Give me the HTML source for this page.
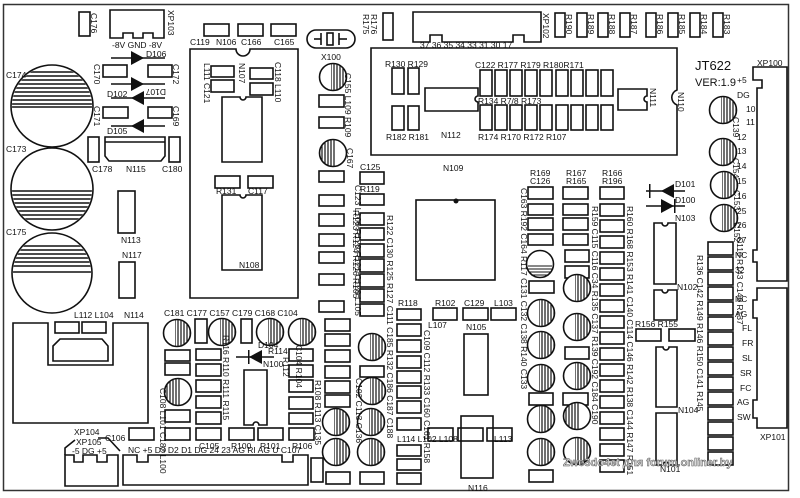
<!DOCTYPE html>
<html><head><meta charset="utf-8"><style>
html,body{margin:0;padding:0;background:#fff;width:800px;height:498px;overflow:hidden}
svg{display:block}
text{font-family:"Liberation Sans",sans-serif;font-size:8.5px;fill:#111}
</style></head><body>
<svg width="800" height="498" viewBox="0 0 800 498" xmlns="http://www.w3.org/2000/svg">
<defs>
<pattern id="vl" width="3" height="4" patternUnits="userSpaceOnUse"><rect width="3" height="4" fill="#fff"/><line x1="1" y1="0" x2="1" y2="4" stroke="#111" stroke-width="1.2"/></pattern>
<clipPath id="cc"><circle cx="0" cy="0" r="13"/></clipPath>
<clipPath id="b1"><circle cx="52" cy="106" r="40"/></clipPath>
<clipPath id="b2"><circle cx="52" cy="189" r="40"/></clipPath>
<clipPath id="b3"><circle cx="52" cy="273" r="39"/></clipPath>
<g id="hc"><circle r="13.5" fill="#fff"/><rect x="-2" y="-14" width="16" height="28" fill="url(#vl)" clip-path="url(#cc)"/><circle r="13.5" fill="none" stroke="#111" stroke-width="1.6"/></g>
<g id="hcl"><circle r="13.5" fill="#fff"/><rect x="-14" y="-14" width="16" height="28" fill="url(#vl)" clip-path="url(#cc)"/><circle r="13.5" fill="none" stroke="#111" stroke-width="1.6"/></g>
</defs>
<rect x="0" y="0" width="800" height="498" fill="#fff"/>
<rect x="3.5" y="4.5" width="785" height="486" fill="none" stroke="#333" stroke-width="1.5"/>

<g fill="none" stroke="#111" stroke-width="1.6">
<circle cx="52" cy="106" r="41"/>
<circle cx="52" cy="189" r="41"/>
<circle cx="52" cy="273" r="40"/>
</g>
<g stroke="#111" stroke-width="1.4">
<g clip-path="url(#b1)">
<line x1="0" y1="72" x2="100" y2="72"/><line x1="0" y1="76" x2="100" y2="76"/><line x1="0" y1="80" x2="100" y2="80"/><line x1="0" y1="84" x2="100" y2="84"/><line x1="0" y1="88" x2="100" y2="88"/><line x1="0" y1="92" x2="100" y2="92"/><line x1="0" y1="96" x2="100" y2="96"/><line x1="0" y1="100" x2="100" y2="100"/><line x1="0" y1="104" x2="100" y2="104"/><line x1="0" y1="107" x2="100" y2="107"/>
</g>
<g clip-path="url(#b2)">
<line x1="0" y1="191" x2="100" y2="191"/><line x1="0" y1="195" x2="100" y2="195"/><line x1="0" y1="199" x2="100" y2="199"/><line x1="0" y1="203" x2="100" y2="203"/><line x1="0" y1="207" x2="100" y2="207"/><line x1="0" y1="211" x2="100" y2="211"/><line x1="0" y1="215" x2="100" y2="215"/><line x1="0" y1="219" x2="100" y2="219"/>
</g>
<g clip-path="url(#b3)">
<line x1="0" y1="246" x2="100" y2="246"/><line x1="0" y1="250" x2="100" y2="250"/><line x1="0" y1="254" x2="100" y2="254"/><line x1="0" y1="258" x2="100" y2="258"/><line x1="0" y1="262" x2="100" y2="262"/><line x1="0" y1="266" x2="100" y2="266"/><line x1="0" y1="272" x2="100" y2="272"/>
</g>
</g>

<g fill="none" stroke="#111" stroke-width="1.6">
<rect x="79" y="12" width="11" height="24"/>
<path d="M110 10 H164 V38 H153 V33 H143 V38 H133 V33 H123 V38 H110 Z"/>
<rect x="103" y="65" width="24" height="12"/><rect x="148" y="65" width="24" height="12"/>
<rect x="103" y="107" width="25" height="11"/><rect x="148" y="107" width="24" height="11"/>
<rect x="88" y="137" width="11" height="25"/><path d="M105 137 H165 V156 L161 161 H109 L105 156 Z"/><line x1="105" y1="142" x2="165" y2="142"/>
<rect x="169" y="137" width="11" height="25"/>
<rect x="118" y="191" width="17" height="42"/>
<rect x="119" y="262" width="16" height="36"/>
<rect x="55" y="322" width="24" height="11"/><rect x="82" y="322" width="24" height="11"/>
<path d="M13 323 H48 V365 H113 V323 H148 V423 H13 Z"/>
<path d="M60 339 H102 L108 346 V361 H53 V346 Z"/>
<line x1="111" y1="58" x2="165" y2="58"/><line x1="111" y1="84" x2="165" y2="84"/><line x1="111" y1="98" x2="165" y2="98"/><line x1="111" y1="126" x2="165" y2="126"/>
<path d="M190 49 H236 A7 7 0 0 0 250 49 H298 V298 H190 Z"/>
<rect x="204" y="24" width="25" height="12"/><rect x="238" y="24" width="25" height="12"/><rect x="271" y="24" width="25" height="12"/>
<rect x="211" y="66" width="23" height="11"/><rect x="211" y="80" width="23" height="12"/>
<rect x="250" y="68" width="23" height="11"/><rect x="250" y="83" width="23" height="12"/>
<path d="M222 97 H240 A3 3 0 0 0 246 97 H262 V162 H222 Z"/>
<rect x="215" y="176" width="25" height="12"/><rect x="248" y="176" width="25" height="12"/>
<path d="M222 195 H240 A3 3 0 0 0 246 195 H262 V270 H222 Z"/>
<rect x="307" y="30" width="48" height="18" rx="9"/><rect x="327" y="33" width="6" height="12"/><line x1="321" y1="33" x2="321" y2="45"/><line x1="339" y1="33" x2="339" y2="45"/><line x1="314" y1="39" x2="321" y2="39"/><line x1="339" y1="39" x2="347" y2="39"/>
<rect x="383" y="13" width="10" height="27"/>
<path d="M413 12 H541 V42 H524 V35 H513 V42 H442 V35 H430 V42 H413 Z"/>
<rect x="555" y="13" width="10" height="24"/><rect x="577" y="13" width="10" height="24"/><rect x="598" y="13" width="10" height="24"/><rect x="620" y="13" width="10" height="24"/><rect x="646" y="13" width="10" height="24"/><rect x="668" y="13" width="10" height="24"/><rect x="690" y="13" width="10" height="24"/><rect x="713" y="13" width="10" height="24"/>
<path d="M371 48 H677 V90 A8 8 0 0 0 677 105 V155 H371 Z"/>
<rect x="392" y="68" width="12" height="26"/><rect x="408" y="68" width="11" height="26"/>
<rect x="392" y="106" width="12" height="24"/><rect x="408" y="106" width="11" height="24"/>
<path d="M425 88 H478 V96 A3 3 0 0 0 478 102 V111 H425 Z"/>
<rect x="480" y="70" width="12" height="26"/><rect x="495" y="70" width="12" height="26"/><rect x="510" y="70" width="12" height="26"/><rect x="525" y="70" width="12" height="26"/><rect x="540" y="70" width="12" height="26"/><rect x="556" y="70" width="12" height="26"/><rect x="571" y="70" width="12" height="26"/><rect x="586" y="70" width="12" height="26"/><rect x="601" y="70" width="12" height="26"/>
<rect x="480" y="105" width="12" height="25"/><rect x="495" y="105" width="12" height="25"/><rect x="510" y="105" width="12" height="25"/><rect x="525" y="105" width="12" height="25"/><rect x="540" y="105" width="12" height="25"/><rect x="556" y="105" width="12" height="25"/><rect x="571" y="105" width="12" height="25"/><rect x="586" y="105" width="12" height="25"/><rect x="601" y="105" width="12" height="25"/>
<path d="M618 89 H647 V96 A3 3 0 0 0 647 102 V110 H618 Z"/>
<rect x="416" y="200" width="79" height="80"/>
<rect x="319" y="95" width="25" height="12"/><rect x="319" y="117" width="25" height="11"/><rect x="319" y="171" width="25" height="11"/><rect x="319" y="195" width="25" height="11"/><rect x="319" y="214" width="25" height="12"/><rect x="319" y="234" width="25" height="12"/><rect x="319" y="252" width="25" height="11"/><rect x="319" y="274" width="25" height="11"/><rect x="319" y="301" width="25" height="11"/>
<rect x="360" y="172" width="24" height="12"/><rect x="360" y="194" width="24" height="11"/><rect x="360" y="213" width="24" height="12"/><rect x="360" y="228" width="24" height="12"/><rect x="360" y="244" width="24" height="13"/><rect x="360" y="259" width="24" height="13"/><rect x="360" y="274" width="24" height="13"/><rect x="360" y="289" width="24" height="13"/><rect x="360" y="304" width="24" height="12"/><rect x="360" y="366" width="24" height="11"/>
<rect x="325" y="319" width="25" height="12"/><rect x="325" y="334" width="25" height="12"/><rect x="325" y="350" width="25" height="12"/><rect x="325" y="366" width="25" height="12"/><rect x="325" y="381" width="25" height="12"/><rect x="325" y="395" width="25" height="12"/>
<rect x="397" y="309" width="24" height="11"/><rect x="397" y="324" width="24" height="12"/><rect x="397" y="340" width="24" height="12"/><rect x="397" y="356" width="24" height="12"/><rect x="397" y="371" width="24" height="12"/><rect x="397" y="386" width="24" height="12"/><rect x="397" y="401" width="24" height="12"/><rect x="397" y="418" width="24" height="12"/><rect x="397" y="445" width="24" height="11"/><rect x="397" y="459" width="24" height="11"/><rect x="397" y="473" width="24" height="11"/>
<rect x="428" y="428" width="25" height="13"/><rect x="458" y="428" width="25" height="13"/><rect x="487" y="428" width="25" height="13"/>
<rect x="433" y="308" width="24" height="12"/><rect x="463" y="308" width="25" height="12"/><rect x="491" y="308" width="25" height="12"/>
<rect x="464" y="334" width="24" height="61"/><rect x="461" y="416" width="32" height="62"/>
<rect x="529" y="281" width="25" height="12"/><rect x="565" y="347" width="24" height="12"/><rect x="529" y="393" width="24" height="12"/><rect x="563" y="393" width="25" height="12"/><rect x="529" y="470" width="24" height="12"/>
<rect x="528" y="187" width="25" height="12"/><rect x="528" y="204" width="25" height="11"/><rect x="528" y="218" width="25" height="12"/><rect x="528" y="234" width="25" height="11"/>
<rect x="563" y="187" width="25" height="12"/><rect x="563" y="204" width="25" height="11"/><rect x="563" y="218" width="25" height="12"/><rect x="563" y="234" width="25" height="11"/><rect x="565" y="250" width="24" height="12"/><rect x="565" y="266" width="24" height="12"/>
<rect x="600" y="187" width="24" height="12"/><rect x="600" y="204" width="24" height="12"/><rect x="600" y="220" width="24" height="12"/><rect x="600" y="236" width="24" height="12"/><rect x="600" y="252" width="24" height="12"/><rect x="600" y="268" width="24" height="12"/><rect x="600" y="284" width="24" height="12"/><rect x="600" y="300" width="24" height="12"/><rect x="600" y="316" width="24" height="12"/><rect x="600" y="332" width="24" height="12"/><rect x="600" y="348" width="24" height="12"/><rect x="600" y="364" width="24" height="12"/><rect x="600" y="380" width="24" height="12"/><rect x="600" y="396" width="24" height="12"/><rect x="600" y="412" width="24" height="12"/><rect x="600" y="428" width="24" height="12"/><rect x="600" y="444" width="24" height="12"/><rect x="600" y="460" width="24" height="12"/>
<path d="M654 223 H662 A3 3 0 0 0 668 223 H676 V284 H654 Z"/>
<path d="M654 290 H662 A3 3 0 0 0 668 290 H677 V320 H654 Z"/>
<rect x="636" y="329" width="25" height="12"/><rect x="669" y="329" width="26" height="12"/>
<path d="M656 347 H663 A3 3 0 0 0 669 347 H677 V407 H656 Z"/>
<path d="M656 413 H677 V465 H669 A3 3 0 0 0 663 465 H656 Z"/>
<line x1="646" y1="191" x2="685" y2="191"/><line x1="646" y1="206" x2="685" y2="206"/>
<rect x="708" y="242" width="25" height="13"/><rect x="708" y="257" width="25" height="13"/><rect x="708" y="272" width="25" height="13"/><rect x="708" y="287" width="25" height="13"/><rect x="708" y="302" width="25" height="13"/><rect x="708" y="317" width="25" height="13"/><rect x="708" y="332" width="25" height="13"/><rect x="708" y="347" width="25" height="13"/><rect x="708" y="362" width="25" height="13"/><rect x="708" y="377" width="25" height="13"/><rect x="708" y="392" width="25" height="13"/><rect x="708" y="407" width="25" height="13"/><rect x="708" y="422" width="25" height="13"/><rect x="708" y="437" width="25" height="13"/><rect x="708" y="452" width="25" height="13"/>
<path d="M753 67 H787 V281 H757 V262 H753 V250 H757 V88 H762 V80 H753 Z"/>
<path d="M757 288 H787 V428 H757 V418 H753 V400 H757 V318 H753 V300 H757 Z"/>
<rect x="195" y="319" width="12" height="24"/><rect x="241" y="319" width="11" height="24"/>
<rect x="165" y="350" width="25" height="11"/><rect x="165" y="363" width="25" height="12"/><rect x="165" y="410" width="25" height="12"/><rect x="165" y="428" width="25" height="12"/>
<rect x="196" y="349" width="25" height="11"/><rect x="196" y="364" width="25" height="12"/><rect x="196" y="380" width="25" height="12"/><rect x="196" y="396" width="25" height="12"/><rect x="196" y="412" width="25" height="12"/><rect x="196" y="428" width="25" height="12"/>
<path d="M244 370 H267 V425 H259 A3 3 0 0 0 253 425 H244 Z"/>
<line x1="236" y1="357" x2="274" y2="357"/>
<rect x="229" y="428" width="25" height="12"/><rect x="258" y="428" width="25" height="12"/><rect x="289" y="428" width="25" height="12"/>
<rect x="289" y="349" width="24" height="12"/><rect x="289" y="365" width="24" height="12"/><rect x="289" y="380" width="24" height="12"/><rect x="289" y="397" width="24" height="12"/><rect x="289" y="413" width="24" height="11"/>
<rect x="129" y="428" width="25" height="12"/>
<rect x="311" y="458" width="12" height="24"/><rect x="326" y="472" width="24" height="12"/><rect x="360" y="472" width="24" height="12"/>
<path d="M65 455 H74 V462 H83 V455 H97 V462 H107 V455 H118 V486 H65 Z"/>
<path d="M123 455 H137 V462 H148 V455 H282 V462 H293 V455 H308 V485 H123 Z"/>
<path d="M65 455 V448 L75 440" /><path d="M98 438 H108 L120 451"/>
</g>
<g fill="#111">
<polygon points="131,51 131,65 144,58"/><polygon points="131,77 131,91 144,84"/><polygon points="144,91 144,105 131,98"/><polygon points="144,119 144,133 131,126"/>
<polygon points="674,184 674,198 661,191"/><polygon points="661,199 661,213 674,206"/>
<polygon points="262,350 262,364 249,357"/>
<rect x="649" y="184" width="1.5" height="14"/><rect x="674" y="199" width="1.5" height="14"/><rect x="248" y="350" width="1.5" height="14"/>
<circle cx="456" cy="201" r="2.5"/>
</g>
<use href="#hc" x="333" y="77"/><use href="#hcl" x="333" y="153"/>
<use href="#hc" x="723" y="110"/><use href="#hc" x="723" y="152"/><use href="#hc" x="724" y="185"/><use href="#hc" x="724" y="218"/>
<use href="#hc" x="177" y="333"/><use href="#hc" x="222" y="332"/><use href="#hc" x="270" y="332"/><use href="#hc" x="302" y="332"/><use href="#hcl" x="178" y="392"/>
<use href="#hc" x="372" y="347"/><use href="#hc" x="372" y="391"/><use href="#hc" x="336" y="422"/><use href="#hc" x="371" y="422"/><use href="#hc" x="336" y="452"/><use href="#hc" x="371" y="452"/>
<use href="#hc" x="541" y="313"/><use href="#hc" x="541" y="345"/><use href="#hc" x="541" y="378"/><use href="#hc" x="541" y="419"/><use href="#hc" x="541" y="452"/>
<use href="#hc" x="577" y="288"/><use href="#hc" x="577" y="327"/><use href="#hc" x="577" y="376"/><use href="#hcl" x="577" y="416"/><use href="#hc" x="577" y="451"/>
<g><circle cx="540" cy="264" r="13.5" fill="#fff" stroke="#111" stroke-width="1.6"/><line x1="528" y1="266" x2="552" y2="266" stroke="#111"/><line x1="528" y1="269" x2="552" y2="269" stroke="#111"/><line x1="529" y1="272" x2="551" y2="272" stroke="#111"/><line x1="531" y1="275" x2="549" y2="275" stroke="#111"/></g>

<text x="6" y="78">C174</text><text x="6" y="152">C173</text><text x="6" y="235">C175</text>
<text x="112" y="48">-8V GND -8V</text><text x="146" y="57">D106</text><text x="107" y="97">D102</text><text x="107" y="134">D105</text><text x="146" y="95" transform="rotate(180 156 92)">D107</text>
<text x="92" y="172">C178</text><text x="126" y="172">N115</text><text x="162" y="172">C180</text>
<text x="121" y="243">N113</text><text x="122" y="258">N117</text>
<text x="74" y="318">L112 L104</text><text x="124" y="318">N114</text>
<text x="190" y="45">C119</text><text x="216" y="45">N106</text><text x="241" y="45">C166</text><text x="274" y="45">C165</text>
<text x="321" y="60">X100</text>
<text x="239" y="268">N108</text>
<text x="216" y="194">R131</text><text x="248" y="194">C117</text>
<text x="360" y="170">C125</text><text x="360" y="192">R119</text>
<text x="420" y="48">37 36 35 34 33 31 30 17</text>
<text x="385" y="67">R130 R129</text><text x="386" y="140">R182 R181</text><text x="441" y="138">N112</text>
<text x="475" y="68">C122 R177 R179 R180R171</text><text x="478" y="140">R174 R170  R172 R107</text><text x="478" y="104">R134 R7/8 R173</text>
<text x="443" y="171">N109</text>
<text x="695" y="70" style="font-size:13px">JT622</text><text x="695" y="86" style="font-size:11px">VER:1.9</text>
<text x="757" y="66">XP100</text><text x="760" y="440">XP101</text>
<text x="737" y="83">+5</text><text x="737" y="98">DG</text><text x="746" y="112">10</text><text x="746" y="125">11</text><text x="737" y="140">12</text><text x="737" y="154">13</text><text x="737" y="169">14</text><text x="737" y="184">15</text><text x="737" y="199">16</text><text x="737" y="214">25</text><text x="737" y="228">26</text><text x="737" y="243">27</text><text x="735" y="258">NC</text><text x="735" y="273">32</text>
<text x="735" y="302">NC</text><text x="735" y="317">AG</text><text x="742" y="331">FL</text><text x="742" y="346">FR</text><text x="742" y="361">SL</text><text x="740" y="376">SR</text><text x="740" y="391">FC</text><text x="737" y="405">AG</text><text x="737" y="420">SW</text>
<text x="675" y="187">D101</text><text x="675" y="203">D100</text><text x="675" y="221">N103</text><text x="677" y="290">N102</text><text x="678" y="413">N104</text><text x="660" y="472">N101</text>
<text x="635" y="327">R156 R155</text>
<text x="530" y="176">R169</text><text x="530" y="184">C126</text><text x="566" y="176">R167</text><text x="566" y="184">R165</text><text x="602" y="176">R166</text><text x="602" y="184">R196</text>
<text x="398" y="306">R118</text><text x="435" y="306">R102</text><text x="464" y="306">C129</text><text x="494" y="306">L103</text>
<text x="428" y="328">L107</text><text x="466" y="330">N105</text><text x="397" y="442">L114 L102 L108</text><text x="494" y="442">L113</text><text x="468" y="491">N116</text>
<text x="164" y="316">C181  C177  C157 C179  C168    C104</text>
<text x="258" y="348">D104</text><text x="268" y="354">R114</text><text x="263" y="367">N100</text>
<text x="199" y="449">C105</text><text x="231" y="449">R100</text><text x="260" y="449">R101</text><text x="292" y="449">R106</text>
<text x="128" y="453">NC  +5 D3 D2  D1 DG 24  23  AG  RI  AG  U  C107</text>
<text x="105" y="441">C106</text><text x="74" y="435">XP104</text><text x="76" y="445">XP105</text><text x="72" y="454">-5 DG +5</text>
<text x="166" y="382" transform="rotate(90 160 382)">C108 L101 C182 L100</text>
<text x="296" y="345" transform="rotate(90 296 345)">C104 R104</text>
<text x="355" y="185" transform="rotate(90 355 185)">C123 L106 R120 R121 C128 L105</text>
<text x="345" y="73" transform="rotate(90 345 73)">C155 L109 R109</text>
<text x="347" y="148" transform="rotate(90 347 148)">C167</text>
<text x="387" y="215" transform="rotate(90 387 215)">R122 C130 R125 R127 C111 C185 R132 C186 C187 C188</text>
<text x="353" y="210" transform="rotate(90 353 210)">R123 R124 R126 R105</text>
<text x="356" y="378" transform="rotate(90 356 378)">C102 C113 C136</text>
<text x="315" y="380" transform="rotate(90 315 380)">R108 R113 C135</text>
<text x="424" y="330" transform="rotate(90 424 330)">C109 C112 R133  C160 C161 R158</text>
<text x="521" y="188" transform="rotate(90 521 188)">C163 R192 C164  R117 C131 C132 C138 R140 C133</text>
<text x="592" y="206" transform="rotate(90 592 206)">R159 C115 C116 C34 R135 C137 R139 C192 C184 C190</text>
<text x="627" y="206" transform="rotate(90 627 206)">R160 R168 R153 R141 C140 C114 C146 R142 R138 C144 R147 R151</text>
<text x="697" y="255" transform="rotate(90 697 255)">R136 C142 R149 R146 R150 C141 R145</text>
<text x="737" y="237" transform="rotate(90 737 237)">C110 R143 C148 R137</text>
<text x="733" y="117" transform="rotate(90 733 117)">C139</text><text x="733" y="158" transform="rotate(90 733 158)">C154</text><text x="734" y="190" transform="rotate(90 734 190)">C153</text><text x="734" y="222" transform="rotate(90 734 222)">C152</text>
<text x="168" y="10" transform="rotate(90 168 10)">XP103</text><text x="91" y="13" transform="rotate(90 91 13)">C176</text>
<text x="543" y="13" transform="rotate(90 543 13)">XP102</text>
<text x="566" y="14" transform="rotate(90 566 14)">R190</text><text x="588" y="14" transform="rotate(90 588 14)">R189</text><text x="609" y="14" transform="rotate(90 609 14)">R188</text><text x="631" y="14" transform="rotate(90 631 14)">R187</text><text x="657" y="14" transform="rotate(90 657 14)">R186</text><text x="679" y="14" transform="rotate(90 679 14)">R185</text><text x="701" y="14" transform="rotate(90 701 14)">R184</text><text x="724" y="14" transform="rotate(90 724 14)">R183</text>
<text x="363" y="14" transform="rotate(90 363 14)">R175</text><text x="371" y="14" transform="rotate(90 371 14)">R176</text>
<text x="678" y="92" transform="rotate(90 678 92)">N110</text><text x="650" y="88" transform="rotate(90 650 88)">N111</text>
<text x="173" y="64" transform="rotate(90 173 64)">C172</text><text x="173" y="106" transform="rotate(90 173 106)">C169</text><text x="94" y="64" transform="rotate(90 94 64)">C170</text><text x="94" y="106" transform="rotate(90 94 106)">C171</text>
<text x="275" y="62" transform="rotate(90 275 62)">C118 L110</text><text x="239" y="63" transform="rotate(90 239 63)">N107</text><text x="204" y="63" transform="rotate(90 204 63)">L111 C121</text>
<text x="223" y="335" transform="rotate(90 223 335)">R116 R110 R111 R115</text>
<text x="283" y="357" transform="rotate(90 283 357)">R112</text>
<text x="563" y="466" style="font-size:11px;font-weight:bold;fill:#ddd;stroke:#555;stroke-width:0.5">Zwe3do4et для forum.onliner.by</text>
</svg>
</body></html>
